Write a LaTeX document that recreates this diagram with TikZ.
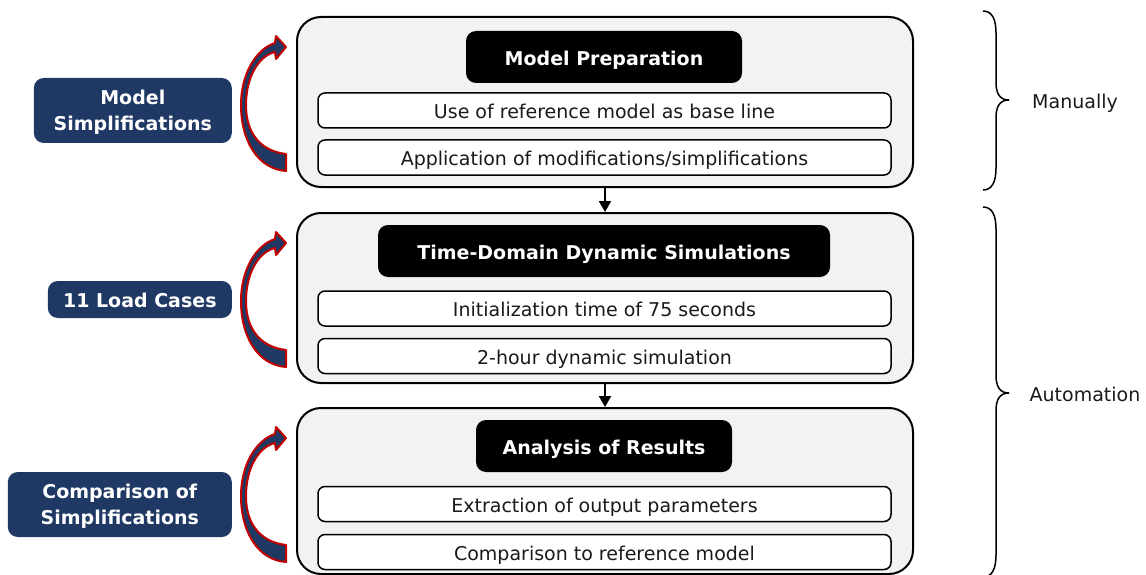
\documentclass[tikz,border=0pt]{standalone}
\usepackage{fontspec}
\setmainfont{DejaVu Sans}
\usetikzlibrary{arrows.meta}
\definecolor{navy}{HTML}{203864}
\definecolor{arrowred}{HTML}{C00000}
\definecolor{panelgray}{HTML}{F2F2F2}
\definecolor{textdark}{HTML}{1A1A1A}
\tikzset{
  oneline/.style={text height=16.5pt, text depth=0pt},
  panel/.style={draw=black, line width=2pt, fill=panelgray, rounded corners=24pt,
    minimum width=616pt, inner sep=0pt},
  header/.style={oneline, fill=black, text=white, rounded corners=10pt, minimum height=52pt,
    inner sep=0pt, font=\fontsize{19}{24}\selectfont\bfseries},
  rowbox/.style={oneline, draw=black, line width=1.5pt, fill=white, rounded corners=7pt,
    minimum width=573pt, minimum height=35pt, inner sep=0pt, text=textdark,
    font=\fontsize{19}{24}\selectfont},
  tagbox/.style={fill=navy, text=white, rounded corners=10pt, anchor=east,
    inner sep=0pt, align=center, font=\fontsize{19}{26}\selectfont\bfseries},
  twoline/.style={text height=41.8pt, text depth=1pt},
  flowarrow/.style={line width=2pt, -{Triangle[width=12pt,length=11pt]}},
  loopshape/.style={fill=navy, draw=arrowred, line width=2pt, line join=round},
  bracestyle/.style={draw=black, line width=1.5pt},
  sidelabel/.style={oneline, text=textdark, font=\fontsize{19}{24}\selectfont}
}
% curved feedback arrow beside a panel, placed relative to its north west corner
\newcommand{\loopback}[1]{%
  \begin{scope}[shift={(#1.north west)}]
    \filldraw[loopshape] (-10,31) -- (-20,20) -- (-21,27)
      .. controls (-40,33) and (-55,58) .. (-55,89)
      .. controls (-55,125) and (-38,153) .. (-10,155)
      -- (-10,138)
      .. controls (-35,135) and (-50,118) .. (-50,89)
      .. controls (-50,62) and (-38,40) .. (-21,36)
      -- (-20,43) -- cycle;
  \end{scope}}
% curly brace opening to the left, tip pointing right
\newcommand{\sidebrace}[3]{%
  \draw[bracestyle] (983,#1) .. controls (992,#1) and (996,#1+8) .. (996,#1+22)
    -- (996,#2-18) .. controls (996,#2-6) and (1000,#2) .. (1009,#2)
    .. controls (1000,#2) and (996,#2+6) .. (996,#2+18)
    -- (996,#3-22) .. controls (996,#3-8) and (992,#3) .. (983,#3);}
\begin{document}
\begin{tikzpicture}[x=1pt, y=-1pt]
\useasboundingbox (0,0) rectangle (1146,575);

% stage panels
\node[panel, minimum height=170pt] (pA) at (605,102) {};
\node[panel, minimum height=170pt] (pB) at (605,298) {};
\node[panel, minimum height=166pt] (pC) at (605,491) {};

% stage titles
\node[header, minimum width=276pt] (hA) at (604,57) {Model Preparation};
\node[header, minimum width=452pt] (hB) at (604,251) {Time-Domain Dynamic Simulations};
\node[header, minimum width=256pt] (hC) at (604,446) {Analysis of Results};

% stage steps
\node[rowbox] (rA1) at (604.5,110.5) {Use of reference model as base line};
\node[rowbox] (rA2) at (604.5,157.5) {Application of modifications/simplifications};
\node[rowbox] (rB1) at (604.5,308.5) {Initialization time of 75 seconds};
\node[rowbox] (rB2) at (604.5,356) {2-hour dynamic simulation};
\node[rowbox] (rC1) at (604.5,504) {Extraction of output parameters};
\node[rowbox] (rC2) at (604.5,552) {Comparison to reference model};

% flow between stages
\draw[flowarrow] (pA.south) -- (pB.north);
\draw[flowarrow] (pB.south) -- (pC.north);

% tags on the left
\node[tagbox, twoline, minimum width=198pt, minimum height=65pt] (tA) at (232,110.5) {Model\\Simplifications};
\node[tagbox, oneline, minimum width=184pt, minimum height=37pt] (tB) at (232,299.5) {11 Load Cases};
\node[tagbox, twoline, minimum width=224pt, minimum height=65pt] (tC) at (232,504.5) {Comparison of\\Simplifications};

% iteration arrows
\loopback{pA}
\loopback{pB}
\loopback{pC}

% braces and their labels
\sidebrace{11}{100}{190}
\sidebrace{207}{393}{577}
\node[sidelabel] (lman) at (1075,100) {Manually};
\node[sidelabel] (lauto) at (1085,393) {Automation};
\end{tikzpicture}
\end{document}
